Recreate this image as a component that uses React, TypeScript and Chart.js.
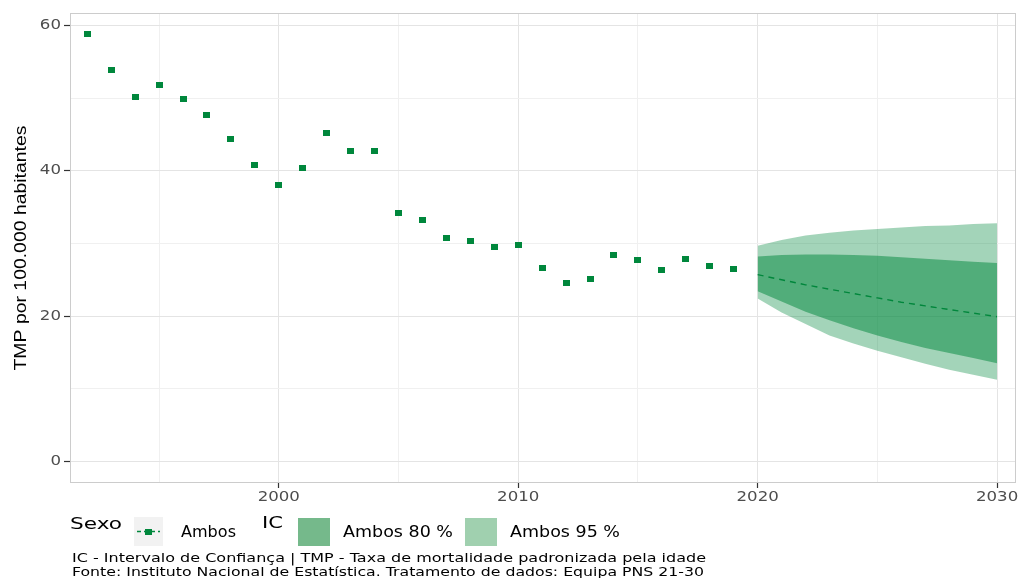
import React, { useEffect, useRef } from 'react';
import { Chart, registerables } from 'chart.js';

Chart.register(...registerables);

// ---- data ----
const obsYears = [1992, 1993, 1994, 1995, 1996, 1997, 1998, 1999, 2000, 2001, 2002, 2003, 2004, 2005, 2006, 2007, 2008, 2009, 2010, 2011, 2012, 2013, 2014, 2015, 2016, 2017, 2018, 2019];
const obsValues = [58.9, 53.9, 50.2, 51.9, 49.9, 47.7, 44.4, 40.8, 38.1, 40.4, 45.2, 42.8, 42.8, 34.2, 33.2, 30.8, 30.3, 29.5, 29.8, 26.6, 24.6, 25.1, 28.4, 27.7, 26.3, 27.9, 26.9, 26.5];

const fcYears = [2020, 2021, 2022, 2023, 2024, 2025, 2026, 2027, 2028, 2029, 2030];
const fcMean = [25.7, 25.0, 24.3, 23.7, 23.1, 22.5, 21.9, 21.4, 20.9, 20.4, 19.9];
const fc80Upper = [28.2, 28.4, 28.5, 28.5, 28.4, 28.3, 28.1, 27.9, 27.7, 27.5, 27.3];
const fc80Lower = [23.4, 22.0, 20.6, 19.4, 18.3, 17.3, 16.4, 15.6, 14.9, 14.2, 13.5];
const fc95Upper = [29.7, 30.5, 31.1, 31.5, 31.8, 32.0, 32.2, 32.4, 32.5, 32.7, 32.8];
const fc95Lower = [22.4, 20.5, 18.9, 17.3, 16.2, 15.2, 14.3, 13.4, 12.6, 11.9, 11.2];

const yTickLabels = [0, 20, 40, 60];
const xTickLabels = [2000, 2010, 2020, 2030];

const yAxisTitle = 'TMP por 100.000 habitantes';
const legendSexoTitle = 'Sexo';
const legendSexoLabel = 'Ambos';
const legendICTitle = 'IC';
const legendICLabels = ['Ambos 80 %', 'Ambos 95 %'];
const captionLines = [
  'IC - Intervalo de Confiança | TMP - Taxa de mortalidade padronizada pela idade',
  'Fonte: Instituto Nacional de Estatística. Tratamento de dados: Equipa PNS 21-30',
];

// ---- styles ----
const GREEN = '#00873c';
const FILL80 = 'rgba(0,135,60,0.5)';
const FILL95 = 'rgba(0,135,60,0.36)';
const KEY80 = '#75b98b';
const KEY95 = '#a0d0af';
const SX = 1.23;

const toXY = (xs: number[], ys: number[]) => xs.map((x, i) => ({ x, y: ys[i] }));

export default function App() {
  const ref = useRef<HTMLCanvasElement>(null);

  useEffect(() => {
    document.body.style.margin = '0';
    const canvas = ref.current!;
    const ctx = canvas.getContext('2d')!;
    const origFill = ctx.fillText;
    (ctx as any).fillText = function (text: string, x: number, y: number) {
      this.save();
      this.translate(x, y);
      this.scale(SX, 1);
      origFill.call(this, text, 0, 0);
      this.restore();
    };

    const square = document.createElement('canvas');
    square.width = 7;
    square.height = 6;
    const sctx = square.getContext('2d')!;
    sctx.fillStyle = GREEN;
    sctx.fillRect(0, 0, 7, 6);

    const fitText = (c: CanvasRenderingContext2D, text: string, x: number, y: number, w: number, font: string, color: string, align: 'left' | 'center' = 'left') => {
      c.save();
      c.font = font;
      c.fillStyle = color;
      c.textAlign = align;
      c.textBaseline = 'alphabetic';
      const mw = c.measureText(text).width;
      c.translate(x, y);
      c.scale(w / mw, 1);
      origFill.call(c, text, 0, 0);
      c.restore();
    };

    const decor = {
      id: 'decor',
      afterDatasetsDraw(chart: any) {
        const c = chart.ctx as CanvasRenderingContext2D;
        const a = chart.chartArea;
        c.save();
        c.strokeStyle = '#cccccc';
        c.lineWidth = 1;
        c.strokeRect(a.left + 0.5, a.top + 0.5, a.right - a.left - 1, a.bottom - a.top - 1);
        c.restore();
      },
      afterDraw(chart: any) {
        const c = chart.ctx as CanvasRenderingContext2D;
        const a = chart.chartArea;
        c.save();
        // y axis title (rotated)
        c.save();
        c.translate(26, (a.top + a.bottom) / 2);
        c.rotate(-Math.PI / 2);
        fitText(c, yAxisTitle, 0, 0, 245, '17px "Liberation Sans"', '#000', 'center');
        c.restore();
        // Sexo legend
        fitText(c, legendSexoTitle, 70, 529, 52, '16px "DejaVu Sans"', '#000');
        c.fillStyle = '#f2f2f2';
        c.fillRect(134, 517, 29, 29);
        c.strokeStyle = GREEN;
        c.lineWidth = 1.5;
        c.setLineDash([4, 3]);
        c.beginPath();
        c.moveTo(137, 531.5);
        c.lineTo(160, 531.5);
        c.stroke();
        c.setLineDash([]);
        c.drawImage(square, 148.5 - 3.5, 531.5 - 3);
        fitText(c, legendSexoLabel, 181, 537, 55, '15.5px "DejaVu Sans"', '#000');
        // IC legend
        fitText(c, legendICTitle, 262, 528, 21, '16px "DejaVu Sans"', '#000');
        c.fillStyle = KEY80;
        c.fillRect(298, 518, 32, 28);
        fitText(c, legendICLabels[0], 343, 537, 110, '15.5px "DejaVu Sans"', '#000');
        c.fillStyle = KEY95;
        c.fillRect(465, 518, 32, 28);
        fitText(c, legendICLabels[1], 510, 537, 110, '15.5px "DejaVu Sans"', '#000');
        // caption
        fitText(c, captionLines[0], 72, 562, 634, '12.8px "DejaVu Sans"', '#000');
        fitText(c, captionLines[1], 72, 576, 632, '12.8px "DejaVu Sans"', '#000');
        c.restore();
      },
    };

    const isMajorY = (v: number) => yTickLabels.includes(v);
    const isMajorX = (v: number) => xTickLabels.includes(v);

    const chart = new Chart(canvas, {
      type: 'line',
      data: {
        datasets: [
          {
            label: 'obs',
            data: toXY(obsYears, obsValues),
            showLine: false,
            pointStyle: square as any,
            pointRadius: 4,
            pointHoverRadius: 4,
            borderColor: GREEN,
            backgroundColor: GREEN,
          },
          {
            label: 'mean',
            data: toXY(fcYears, fcMean),
            borderColor: GREEN,
            borderWidth: 1.4,
            borderDash: [6, 5],
            pointRadius: 0,
            fill: false,
            tension: 0,
          },
          {
            label: 'up80',
            data: toXY(fcYears, fc80Upper),
            borderColor: 'rgba(0,0,0,0)',
            backgroundColor: FILL80,
            pointRadius: 0,
            fill: '+1',
            tension: 0,
          },
          {
            label: 'lo80',
            data: toXY(fcYears, fc80Lower),
            borderColor: 'rgba(0,0,0,0)',
            pointRadius: 0,
            fill: false,
            tension: 0,
          },
          {
            label: 'up95',
            data: toXY(fcYears, fc95Upper),
            borderColor: 'rgba(0,0,0,0)',
            backgroundColor: FILL95,
            pointRadius: 0,
            fill: '+1',
            tension: 0,
          },
          {
            label: 'lo95',
            data: toXY(fcYears, fc95Lower),
            borderColor: 'rgba(0,0,0,0)',
            pointRadius: 0,
            fill: false,
            tension: 0,
          },
        ],
      },
      options: {
        animation: false,
        responsive: false,
        devicePixelRatio: 1,
        events: [],
        layout: { padding: { top: 13, right: 3, left: 0, bottom: 0 } },
        plugins: {
          legend: { display: false },
          tooltip: { enabled: false },
          title: { display: false },
        },
        scales: {
          x: {
            type: 'linear',
            min: 1991.28,
            max: 2030.79,
            border: { display: false },
            afterFit: (s: any) => { s.height = 95; },
            grid: {
              color: (c: any) => (isMajorX(c.tick?.value) ? '#e4e4e4' : '#f0f0f0'),
              tickColor: (c: any) => (isMajorX(c.tick?.value) ? '#333333' : 'rgba(0,0,0,0)'),
              tickLength: 5,
              lineWidth: 1,
              tickWidth: 1.2,
            },
            ticks: {
              stepSize: 5,
              includeBounds: false,
              autoSkip: false,
              maxRotation: 0,
              padding: 1,
              color: '#4d4d4d',
              font: { family: 'DejaVu Sans', size: 13.5 },
              callback: (v: any) => (isMajorX(Number(v)) ? String(v) : ''),
            },
          },
          y: {
            type: 'linear',
            min: -3.03,
            max: 61.79,
            border: { display: false },
            afterFit: (s: any) => { s.width = 70; },
            title: { display: false },
            grid: {
              color: (c: any) => (isMajorY(c.tick?.value) ? '#e4e4e4' : '#f0f0f0'),
              tickColor: (c: any) => (isMajorY(c.tick?.value) ? '#333333' : 'rgba(0,0,0,0)'),
              tickLength: 6,
              lineWidth: 1,
              tickWidth: 1.2,
            },
            ticks: {
              stepSize: 10,
              includeBounds: false,
              padding: 3,
              color: '#4d4d4d',
              font: { family: 'DejaVu Sans', size: 13.5 },
              callback: (v: any) => (isMajorY(Number(v)) ? String(v) : ''),
            },
          },
        },
      },
      plugins: [decor],
    } as any);

    return () => {
      chart.destroy();
      (ctx as any).fillText = origFill;
    };
  }, []);

  return (
    <div style={{ width: 1021, height: 578, position: 'relative' }}>
      <canvas ref={ref} width={1021} height={578} style={{ display: 'block', width: '1021px', height: '578px' }} />
    </div>
  );
}
